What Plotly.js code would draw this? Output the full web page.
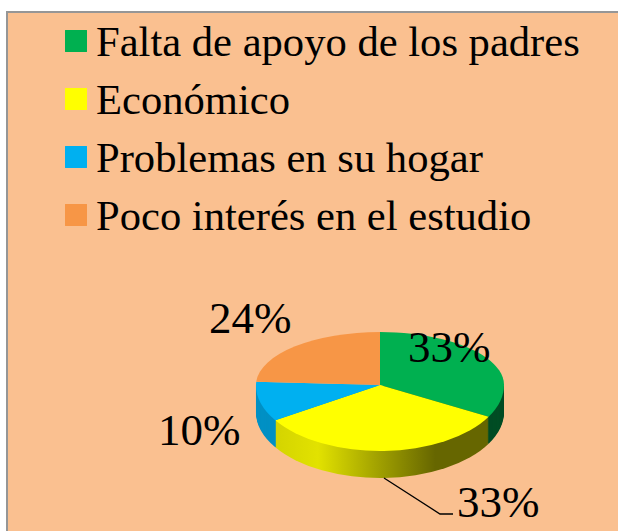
<!DOCTYPE html>
<html>
<head>
<meta charset="utf-8">
<script src="https://cdn.plot.ly/plotly-3.0.1.min.js"></script>
<style>html,body{margin:0;padding:0;background:#fff}#c{width:618px;height:531px}</style>
</head>
<body>
<div id="c"></div>
<script>
const categories = ["Falta de apoyo de los padres", "Económico", "Problemas en su hogar", "Poco interés en el estudio"];
const values = [33, 33, 10, 24];
const topColors = ["#00B050", "#FFFF00", "#00B0F0", "#F79646"];
const rimColors = ["#004D25", "#8A8A00", "#0090C4", "#B06A2E"];
const labelX = [449, 498, 199, 250];
const labelY = [347, 502, 430, 318];

const W = 618, H = 531;
const FONT = "Liberation Serif, Times New Roman, serif";
const CX = 380, CY = 385, RX = 124, RY_BACK = 53, RY_FRONT = 66, DEPTH = 27;

const baseTrace = (colors, legend) => ({
  type: "pie", labels: categories, values: values, sort: false, direction: "clockwise", rotation: 0,
  textinfo: "none", hoverinfo: "label+percent", showlegend: legend,
  marker: {colors: colors, line: {width: 0}},
  domain: {x: [(CX - RX) / W, (CX + RX) / W], y: [1 - (CY + RX) / H, 1 - (CY - RX) / H]}
});

// Layer plan: the extruded rim (front half only), then the top face as a back and a front half.
const plan = [];
const traces = [];
for (let d = DEPTH; d >= 1; d--) {
  plan.push({depth: d, ry: RY_FRONT, half: "front"});
  traces.push(baseTrace(rimColors, false));
}
plan.push({depth: 0, ry: RY_BACK, half: "back"});
traces.push(baseTrace(topColors, false));
plan.push({depth: 0, ry: RY_FRONT, half: "front"});
traces.push(baseTrace(topColors, true));

const layout = {
  width: W, height: H, margin: {l: 0, r: 0, t: 0, b: 0},
  paper_bgcolor: "#ffffff", font: {family: FONT, color: "#000"},
  showlegend: true,
  legend: {x: 56 / W, y: 1 - 15 / H, xanchor: "left", yanchor: "top", bgcolor: "rgba(0,0,0,0)",
           font: {family: FONT, size: 42.6, color: "#000"}, traceorder: "normal"},
  shapes: [
    {type: "rect", xref: "paper", yref: "paper", layer: "below", x0: 7 / W, x1: 1.05, y0: -0.05, y1: 1 - 12 / H,
     fillcolor: "#FAC090", line: {color: "#969696", width: 2}},
    {type: "path", xref: "paper", yref: "paper",
     path: `M ${384 / W} ${1 - 478 / H} L ${440 / W} ${1 - 514 / H} L ${453 / W} ${1 - 514 / H}`,
     line: {color: "#000", width: 1.3}}
  ],
  annotations: values.map((v, i) => ({
    text: v + "%", xref: "paper", yref: "paper", x: labelX[i] / W, y: 1 - labelY[i] / H,
    xanchor: "center", yanchor: "middle", showarrow: false,
    font: {family: FONT, size: 45, color: "#000"}
  }))
};

Plotly.newPlot("c", traces, layout, {displayModeBar: false, responsive: false}).then(() => {
  const gd = document.getElementById("c");
  const svg = gd.querySelector("svg.main-svg");
  const NS = "http://www.w3.org/2000/svg";
  const defs = svg.querySelector("defs");

  const g = document.createElementNS(NS, "linearGradient");
  g.setAttribute("id", "rimYellow");
  [[0, "#D4D400"], [0.2, "#E2E200"], [0.45, "#A8A800"], [0.75, "#666600"], [1, "#666600"]].forEach(s => {
    const st = document.createElementNS(NS, "stop");
    st.setAttribute("offset", s[0]);
    st.setAttribute("stop-color", s[1]);
    g.appendChild(st);
  });
  defs.appendChild(g);

  const addClip = (id, y0, y1) => {
    const c = document.createElementNS(NS, "clipPath");
    c.setAttribute("id", id);
    const r = document.createElementNS(NS, "rect");
    r.setAttribute("x", 0); r.setAttribute("width", W);
    r.setAttribute("y", y0); r.setAttribute("height", y1 - y0);
    c.appendChild(r);
    defs.appendChild(c);
  };
  addClip("halfBack", CY - RX - 2, CY + 0.5);
  addClip("halfFront", CY - 0.5, CY + RX + 2);

  gd.querySelectorAll(".pielayer .trace").forEach((t, idx) => {
    const p = plan[idx];
    t.setAttribute("transform", `translate(0 ${CY + p.depth}) scale(1 ${p.ry / RX}) translate(0 ${-CY})`);
    t.setAttribute("clip-path", `url(#${p.half === "back" ? "halfBack" : "halfFront"})`);
    if (p.depth > 0) {
      const s = t.querySelectorAll(".slice path.surface");
      if (s[1]) s[1].style.fill = "url(#rimYellow)";
    }
  });

  // legend: larger swatches and the reference's row spacing
  const rowH = 58;
  gd.querySelectorAll(".legend .traces").forEach((r, i) => {
    r.setAttribute("transform", `translate(0 ${24 + i * rowH})`);
    r.querySelectorAll(".legendpoints path").forEach(p => {
      p.setAttribute("transform", (p.getAttribute("transform") || "") + " translate(0 2) scale(1.83)");
    });
  });
  const leg = gd.querySelector(".legend");
  const sb = leg.querySelector(".scrollbox");
  if (sb) sb.removeAttribute("clip-path");
  const bg = leg.querySelector("rect.bg");
  if (bg) bg.setAttribute("height", 260);
});
</script>
</body>
</html>
